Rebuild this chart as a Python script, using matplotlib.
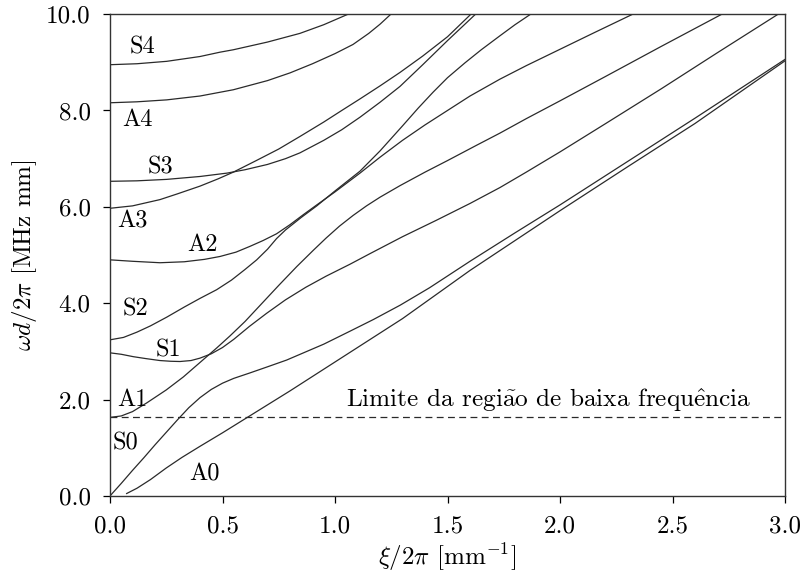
import matplotlib
matplotlib.use("Agg")
import matplotlib.pyplot as plt
from matplotlib.ticker import FormatStrFormatter, MultipleLocator

plt.rcParams["font.family"] = "cmr10"
plt.rcParams["mathtext.fontset"] = "cm"
plt.rcParams["axes.formatter.use_mathtext"] = True
plt.rcParams["font.size"] = 18

# Lamb wave dispersion curves, steel plate (fd in MHz mm vs xi/2pi in 1/mm)
A0_X = [0.074, 0.12, 0.18, 0.25, 0.32, 0.4, 0.5, 0.6, 0.7, 0.8, 0.9, 1.0, 1.1, 1.2, 1.3, 1.45, 1.6, 1.8, 2.0, 2.3, 2.6, 3.0]
A0_Y = [0.05, 0.16, 0.34, 0.58, 0.8, 1.03, 1.31, 1.6, 1.89, 2.18, 2.48, 2.78, 3.08, 3.38, 3.68, 4.18, 4.68, 5.3, 5.92, 6.83, 7.73, 9.03]

S0_X = [0.0, 0.05, 0.1, 0.15, 0.2, 0.25, 0.3, 0.35, 0.4, 0.45, 0.5, 0.55, 0.62, 0.7, 0.785, 0.86, 0.95, 1.067, 1.17, 1.29, 1.42, 1.6, 1.8, 2.0, 2.3, 2.6, 3.0]
S0_Y = [0.0, 0.26, 0.53, 0.79, 1.06, 1.32, 1.58, 1.83, 2.04, 2.21, 2.34, 2.44, 2.55, 2.68, 2.82, 2.97, 3.15, 3.42, 3.66, 3.96, 4.32, 4.87, 5.46, 6.04, 6.94, 7.84, 9.06]

A1_X = [0.0, 0.05, 0.1, 0.163, 0.25, 0.326, 0.4, 0.474, 0.533, 0.6, 0.652, 0.75, 0.83, 0.904, 0.96, 1.02, 1.08, 1.14, 1.2, 1.289, 1.4, 1.5, 1.63, 1.733, 1.85, 2.0, 2.2, 2.45, 2.72]
A1_Y = [1.63, 1.66, 1.75, 1.93, 2.2, 2.47, 2.77, 3.07, 3.32, 3.62, 3.88, 4.37, 4.76, 5.1, 5.35, 5.6, 5.82, 6.02, 6.2, 6.44, 6.72, 6.96, 7.28, 7.53, 7.83, 8.2, 8.7, 9.33, 10.0]

S1_X = [0.0, 0.05, 0.104, 0.16, 0.222, 0.27, 0.311, 0.36, 0.4, 0.45, 0.5, 0.55, 0.62, 0.696, 0.78, 0.87, 0.96, 1.067, 1.156, 1.3, 1.45, 1.6, 1.733, 1.85, 2.0, 2.2, 2.45, 2.7, 2.97]
S1_Y = [2.97, 2.94, 2.89, 2.85, 2.81, 2.795, 2.79, 2.81, 2.86, 2.95, 3.08, 3.25, 3.52, 3.79, 4.07, 4.33, 4.56, 4.81, 5.03, 5.38, 5.72, 6.07, 6.4, 6.72, 7.14, 7.72, 8.45, 9.2, 10.0]

S2_X = [0.0, 0.06, 0.12, 0.18, 0.252, 0.33, 0.4, 0.474, 0.54, 0.6, 0.652, 0.7, 0.74, 0.78, 0.85, 0.919, 1.0, 1.111, 1.2, 1.3, 1.37, 1.436, 1.5, 1.578, 1.65, 1.733, 1.8, 1.87]
S2_Y = [3.24, 3.29, 3.4, 3.53, 3.71, 3.92, 4.1, 4.28, 4.48, 4.7, 4.9, 5.12, 5.34, 5.52, 5.78, 6.02, 6.33, 6.74, 7.16, 7.68, 8.05, 8.38, 8.68, 8.99, 9.26, 9.55, 9.78, 10.0]

A2_X = [0.0, 0.1, 0.222, 0.33, 0.42, 0.489, 0.56, 0.622, 0.68, 0.74, 0.8, 0.86, 0.919, 1.0, 1.111, 1.2, 1.3, 1.4, 1.5, 1.6, 1.733, 1.85, 2.0, 2.15, 2.324]
A2_Y = [4.9, 4.87, 4.84, 4.86, 4.91, 4.97, 5.06, 5.18, 5.3, 5.44, 5.63, 5.84, 6.04, 6.31, 6.7, 7.03, 7.38, 7.7, 8.0, 8.3, 8.65, 8.93, 9.27, 9.61, 10.0]

A3_X = [0.0, 0.1, 0.222, 0.3, 0.4, 0.48, 0.548, 0.65, 0.75, 0.844, 0.95, 1.03, 1.111, 1.2, 1.289, 1.39, 1.5, 1.6]
A3_Y = [5.97, 6.02, 6.15, 6.27, 6.43, 6.58, 6.72, 6.96, 7.2, 7.46, 7.76, 8.0, 8.24, 8.51, 8.79, 9.13, 9.53, 9.98]

S3_X = [0.0, 0.12, 0.252, 0.4, 0.52, 0.6, 0.7, 0.78, 0.844, 0.95, 1.03, 1.111, 1.2, 1.289, 1.39, 1.5, 1.625]
S3_Y = [6.53, 6.54, 6.57, 6.63, 6.7, 6.77, 6.88, 7.0, 7.12, 7.38, 7.6, 7.86, 8.17, 8.5, 8.95, 9.45, 10.0]

A4_X = [0.0, 0.12, 0.252, 0.4, 0.548, 0.7, 0.8, 0.9, 1.0, 1.08, 1.15, 1.2, 1.244]
A4_Y = [8.16, 8.18, 8.22, 8.3, 8.43, 8.62, 8.78, 8.97, 9.18, 9.37, 9.6, 9.79, 9.98]

S4_X = [0.0, 0.12, 0.252, 0.4, 0.489, 0.548, 0.7, 0.844, 0.95, 1.059]
S4_Y = [8.95, 8.97, 9.02, 9.12, 9.21, 9.26, 9.42, 9.6, 9.78, 10.0]

LIMIT_FD = 1.63
LIMIT_TEXT = r"Limite da regi$\mathrm{\tilde{a}}$o de baixa frequ$\mathrm{\hat{e}}$ncia"

MODES = {
    "A0": (A0_X, A0_Y), "S0": (S0_X, S0_Y),
    "A1": (A1_X, A1_Y), "S1": (S1_X, S1_Y),
    "A2": (A2_X, A2_Y), "S2": (S2_X, S2_Y),
    "A3": (A3_X, A3_Y), "S3": (S3_X, S3_Y),
    "A4": (A4_X, A4_Y), "S4": (S4_X, S4_Y),
}

# where each mode name sits, in data coordinates
LABEL_AT = {
    "S4": (0.143, 9.3), "A4": (0.124, 7.8), "S3": (0.222, 6.81),
    "A3": (0.098, 5.69), "A2": (0.413, 5.21), "S2": (0.115, 3.88),
    "S1": (0.258, 3.03), "A1": (0.1, 1.99), "S0": (0.07, 1.08),
    "A0": (0.42, 0.44),
}

LINE_COLOR = "#2a2a2a"

fig = plt.figure(figsize=(8, 5.76), dpi=100)
ax = fig.add_axes([0.1375, 0.139, 0.84375, 0.8365])

for name, (xs, ys) in MODES.items():
    ax.plot(xs, ys, color=LINE_COLOR, lw=0.9, solid_joinstyle="round")
    lx, ly = LABEL_AT[name]
    ax.text(lx, ly, name, ha="center", va="center", color="black", fontsize=17.5)

ax.axhline(LIMIT_FD, color=LINE_COLOR, lw=0.9, dashes=(5.5, 3.5))
ax.text(1.95, LIMIT_FD + 0.23, LIMIT_TEXT, ha="center", va="baseline", fontsize=18.2)

ax.set_xlim(0, 3.0)
ax.set_ylim(0, 10.0)
ax.xaxis.set_major_locator(MultipleLocator(0.5))
ax.yaxis.set_major_locator(MultipleLocator(2.0))
ax.xaxis.set_major_formatter(FormatStrFormatter("%.1f"))
ax.yaxis.set_major_formatter(FormatStrFormatter("%.1f"))
ax.tick_params(direction="out", length=5, width=0.9, pad=9, labelsize=18)

for spine in ax.spines.values():
    spine.set_linewidth(1.0)
    spine.set_color("#333333")

ax.set_xlabel(r"$\xi/2\pi$ [mm$^{\mathrm{-1}}$]", fontsize=18, labelpad=3)
ax.set_ylabel(r"$\omega d/2\pi$ [MHz mm]", fontsize=18, labelpad=5)

fig.savefig("out.png", dpi=100)
